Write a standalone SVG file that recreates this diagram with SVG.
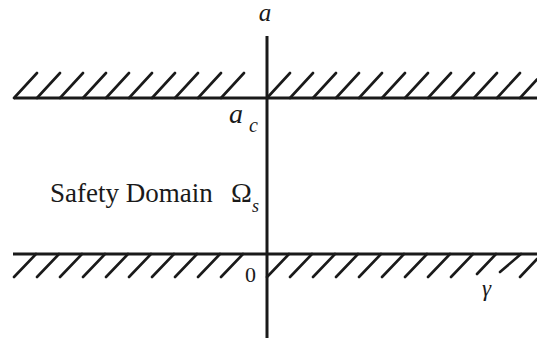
<svg xmlns="http://www.w3.org/2000/svg" width="537" height="340" viewBox="0 0 537 340">
<style>
.ln{stroke:#1a1a1a;stroke-width:3;fill:none;stroke-linecap:butt}
.h{stroke:#1a1a1a;stroke-width:2.6;fill:none;stroke-linecap:round}
text{font-family:'Liberation Serif','DejaVu Serif',serif;fill:#1a1a1a}
.i{font-style:italic}
</style>
<rect width="537" height="340" fill="#fff"/>
<g id="axis">
<line class="ln" x1="267" y1="36" x2="267" y2="338"/>
</g>
<g id="upper-boundary">
<line class="ln" x1="14" y1="98" x2="537" y2="98"/>
<path class="h" d="M14 98l23 -25M37 98l23 -25M60 98l23 -25M83 98l23 -25M106 98l23 -25M129 98l23 -25M152 98l23 -25M175 98l23 -25M198 98l23 -25M221 98l23 -25M267 98l23 -25M290 98l23 -25M313 98l23 -25M336 98l23 -25M359 98l23 -25M382 98l23 -25M405 98l23 -25M428 98l23 -25M451 98l23 -25M474 98l23 -25M497 98l23 -25M520 98l17 -18.5"/>
</g>
<g id="lower-boundary">
<line class="ln" x1="13" y1="254" x2="537" y2="254"/>
<path class="h" d="M14 277l22 -23M37 277l22 -23M60 277l22 -23M83 277l22 -23M106 277l22 -23M129 277l22 -23M152 277l22 -23M175 277l22 -23M198 277l22 -23M221 277l22 -23M267 277l22 -23M290 277l22 -23M313 277l22 -23M336 277l22 -23M359 277l22 -23M382 277l22 -23M405 277l22 -23M428 277l22 -23M451 277l22 -23M477 274l19 -20M500 272l21 -18M520 277l17 -18"/>
</g>
<g id="labels">
<text class="i" x="265" y="21" font-size="25" text-anchor="middle" font-family="Liberation Serif, serif">a</text>
<text class="i" x="229" y="123" font-size="28" font-family="Liberation Serif, serif">a</text>
<text class="i" x="249" y="132" font-size="20" font-family="Liberation Serif, serif">c</text>
<text x="50" y="202" font-size="27" font-family="Liberation Serif, serif">Safety Domain</text>
<text x="231" y="202" font-size="28" font-family="Liberation Serif, serif">Ω</text>
<text class="i" x="252" y="212" font-size="18" font-family="Liberation Serif, serif">s</text>
<text x="245" y="282" font-size="22" font-family="Liberation Serif, serif">0</text>
<text class="i" x="482" y="296" font-size="23" font-family="Liberation Serif, serif">γ</text>
</g>
</svg>
